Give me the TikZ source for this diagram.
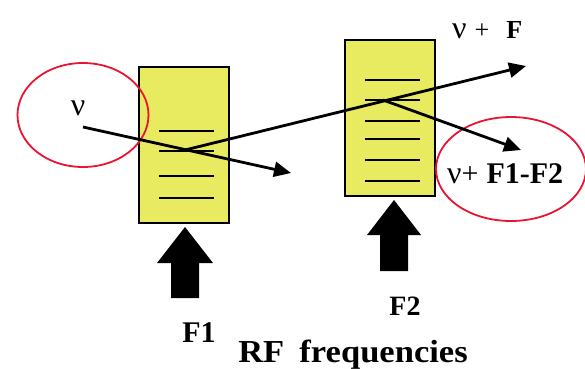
\documentclass[tikz,border=0pt]{standalone}
\usepackage{fontspec}
\usepackage{graphicx}
\setmainfont{Liberation Serif}
\usetikzlibrary{arrows.meta,shapes.geometric}
\definecolor{boxfill}{RGB}{232,234,96}
\definecolor{ringred}{RGB}{232,20,50}
\newcommand{\bignu}{{\fontsize{32}{34}\selectfont ν}}
\begin{document}
\begin{tikzpicture}[x=1pt,y=-1pt,
  cell/.style={draw=black,line width=2pt,fill=boxfill,minimum width=90pt,inner sep=0pt},
  ring/.style={draw=ringred,line width=1.8pt,ellipse,inner sep=0pt},
  beam/.style={line width=2.8pt,-{Triangle[length=17pt,width=15pt]}},
  level/.style={line width=2.2pt},
  lbl/.style={inner sep=0pt,anchor=base}
]
\useasboundingbox (0,0) rectangle (585,368);
% boxes
\node[cell,minimum height=156pt] (b1) at (184,145) {};
\node[cell,minimum height=156pt] (b2) at (390,118) {};
% levels in box 1
\foreach \y in {131,151,176,198} \draw[level] (159,\y) -- (214,\y);
% levels in box 2
\foreach \y in {80,100,121,139,160,181} \draw[level] (365,\y) -- (420,\y);
% rings
\node[ring,minimum width=131pt,minimum height=104pt] (c1) at (83,115) {};
\node[ring,minimum width=150pt,minimum height=104pt] (c2) at (511,169) {};
% labels
\node[lbl] (nu) at (78,115) {\bignu};
\node[lbl,anchor=base west,font=\fontsize{26}{28}\selectfont] (top) at (452,38) {\bignu\hspace{8pt}+\hspace{17pt}\textbf{F}};
\node[lbl,anchor=base west,font=\fontsize{30}{32}\selectfont] (res) at (447,183) {\bignu+\hspace{8pt}\textbf{F1-F2}};
% beams
\coordinate (s1) at (83,127);
\coordinate (e1) at (291,173);
\coordinate (s2) at (185,150);
\coordinate (e2) at (526,66);
\coordinate (s3) at (383,100);
\coordinate (e3) at (521,150);
\draw[beam] (s1) -- (e1);
\draw[beam] (s2) -- (e2);
\draw[beam] (s3) -- (e3);
% RF arrows
\fill (185,227) -- (213,263) -- (199,263) -- (199,298) -- (171,298) -- (171,263) -- (157,263) -- cycle;
\fill (394,200) -- (421,235) -- (408,235) -- (408,271) -- (380,271) -- (380,235) -- (367,235) -- cycle;
\node[lbl,font=\fontsize{30}{32}\selectfont\bfseries] (f1) at (199,342) {F1};
\node[lbl,font=\fontsize{28}{30}\selectfont\bfseries] (f2) at (405,315) {F2};
\node[lbl,font=\fontsize{32}{34}\selectfont\bfseries] (rf) at (353,362) {\scalebox{1.08}[1]{RF\hspace{14pt}frequencies}};
\end{tikzpicture}
\end{document}
